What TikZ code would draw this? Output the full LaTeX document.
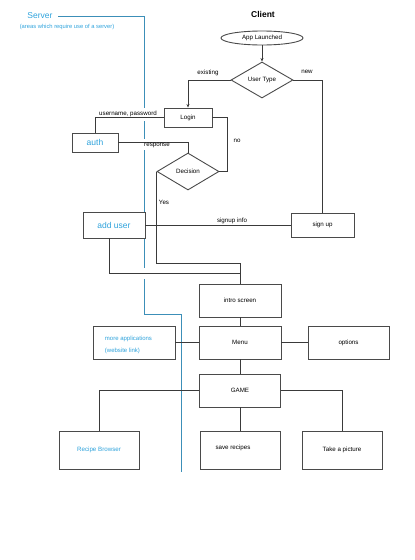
\documentclass[tikz,border=0pt]{standalone}
\usepackage{fontspec}
\setmainfont{Liberation Sans}
\usetikzlibrary{shapes.geometric,arrows.meta}
\definecolor{srvblue}{HTML}{2FA3DC}
\definecolor{srvline}{HTML}{3C8FB8}
\definecolor{boxgray}{HTML}{4A4A4A}
\definecolor{linegray}{HTML}{3A3A3A}
\begin{document}
\begin{tikzpicture}[x=1pt,y=-1pt,
  every node/.style={inner sep=0pt,font=\fontsize{6.2}{7}\selectfont},
  box/.style={draw=boxgray,line width=0.9pt,fill=white,rectangle},
  dia/.style={draw=boxgray,line width=0.9pt,fill=white,diamond},
  conn/.style={draw=linegray,line width=0.8pt},
  arr/.style={conn,-{Stealth[length=3.5pt,width=3pt]}},
  srvtext/.style={text=srvblue},
  srvl/.style={draw=srvline,line width=1pt}
]
\useasboundingbox (0,0) rectangle (415,560);

% server region boundary
\draw[srvl] (58,16) -- (144,16) -- (144,108);
\draw[srvl] (144,121) -- (144,139);
\draw[srvl] (144,150) -- (144,212);
\draw[srvl] (144,239) -- (144,268);
\draw[srvl] (144,279) -- (144,314) -- (181,314) -- (181,472);

% titles
\node[font=\bfseries\fontsize{8.5}{10}\selectfont] (client) at (263,14) {Client};
\node[srvtext,font=\fontsize{8.5}{10}\selectfont] (server) at (40,16) {Server};
\node[srvtext,font=\fontsize{5.8}{7}\selectfont] (serversub) at (67,27) {(areas which require use of a server)};

% nodes
\node[draw=boxgray,line width=0.9pt,fill=white,ellipse,minimum width=82pt,minimum height=14pt] (app) at (262,38) {App Launched};
\node[dia,minimum width=62pt,minimum height=36pt] (utype) at (262,80) {User Type};
\node[box,minimum width=48pt,minimum height=19pt] (login) at (188,117.5) {Login};
\node[dia,minimum width=62pt,minimum height=37pt] (decision) at (188,171.5) {Decision};
\node[box,minimum width=46pt,minimum height=19pt,srvtext,font=\fontsize{8.5}{10}\selectfont] (auth) at (95,142.5) {auth};
\node[box,minimum width=62pt,minimum height=26pt,srvtext,font=\fontsize{8.5}{10}\selectfont] (adduser) at (114,225) {add user};
\node[box,minimum width=63pt,minimum height=24pt] (signup) at (322.5,225) {sign up};
\node[box,minimum width=82pt,minimum height=33pt] (intro) at (240,300.5) {intro screen};
\node[box,minimum width=82pt,minimum height=33pt] (menu) at (240,342.5) {Menu};
\node[box,minimum width=82pt,minimum height=33pt] (moreapps) at (134,342.5) {};
\node[srvtext,align=left,font=\fontsize{6}{12}\selectfont] (moreappst) at (128.5,345) {more applications\\(website link)};
\node[box,minimum width=81pt,minimum height=33pt] (options) at (348.5,342.5) {options};
\node[box,minimum width=81pt,minimum height=33pt] (game) at (240,390.5) {GAME};
\node[box,minimum width=80pt,minimum height=38pt,srvtext] (recipe) at (99,450) {Recipe Browser};
\node[box,minimum width=80pt,minimum height=38pt] (save) at (240,450) {};
\node (savet) at (233,448) {save recipes};
\node[box,minimum width=80pt,minimum height=38pt] (pic) at (342,450) {Take a picture};

% connectors
\draw[arr] (app.south) -- (utype.north);
\draw[arr] (utype.west) -| (login.north);
\draw[conn] (utype.east) -| (signup.north);
\node (existing) at (208,73) {existing};
\node (new) at (307,72) {new};

\draw[conn] (login.east) -- ++(15,0) |- (decision.east);
\node (no) at (237,141) {no};

\draw[conn] (login.west) -| (auth.north);
\node[anchor=south] (userpw) at (128,117) {username, password};

\draw[conn] (auth.east) -| (decision.north);
\node (resp) at (157,145.5) {response};

\coordinate (yc) at (decision.west |- 0,263);
\draw[conn] (decision.west) -- (yc) -| (intro.north);
\node (yes) at (164,202) {Yes};

\draw[conn] (adduser.east) -- (signup.west);
\node (signupinfo) at (232,221) {signup info};

\coordinate (ac) at (109,273);
\draw[conn] (adduser.south -| ac) -- (ac) -| (intro.north);

\draw[conn] (intro.south) -- (menu.north);
\draw[conn] (menu.west) -- (moreapps.east);
\draw[conn] (menu.east) -- (options.west);
\draw[conn] (menu.south) -- (game.north);
\draw[conn] (game.west) -| (recipe.north);
\draw[conn] (game.east) -| (pic.north);
\draw[conn] (game.south) -- (save.north);
\end{tikzpicture}
\end{document}
